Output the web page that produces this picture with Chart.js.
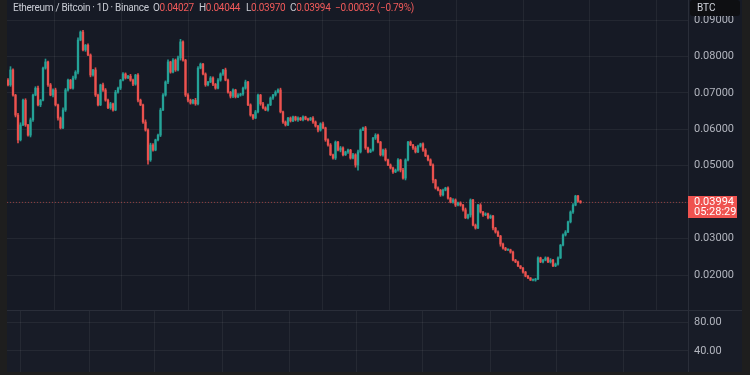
<!DOCTYPE html>
<html>
<head>
<meta charset="utf-8">
<title>ETH/BTC 1D</title>
<script src="https://cdn.jsdelivr.net/npm/chart.js@4.4.1/dist/chart.umd.min.js"></script>
<style>
  html, body { margin: 0; padding: 0; width: 750px; height: 375px; overflow: hidden; background: #1e1e1e; font-family: Roboto, "Noto Sans", sans-serif; }
  #wrap { position: absolute; left: 7px; top: 0; width: 735px; height: 372px; background: #161a25; }
  #top { position: absolute; left: 0; top: 0; width: 735px; height: 310px; }
  #sep { position: absolute; left: 0; top: 310px; width: 735px; height: 1px; background: #2a2e39; }
  #bot { position: absolute; left: 0; top: 311px; width: 735px; height: 61px; background: #181c27; }
  .lg { position: absolute; top: 1px; font-size: 10px; letter-spacing: -0.3px; line-height: 14px; color: #c9ccd4; white-space: nowrap; }
  .lg b { font-weight: normal; color: #f05a5a; }
  #btc { position: absolute; left: 683px; top: 0; width: 50px; height: 16px; background: #0e0f12; border-radius: 3px;
         font-size: 10px; line-height: 16px; color: #d1d4dc; padding-left: 7px; box-sizing: border-box; }
</style>
</head>
<body>
<div id="wrap">
  <div id="top"><canvas id="priceChart"></canvas></div>
  <div id="sep"></div>
  <div id="bot"><canvas id="indChart"></canvas></div>
  <div class="lg" style="left:6px">Ethereum / Bitcoin · 1D · Binance</div>
  <div class="lg" style="left:146px">O<b>0.04027</b></div>
  <div class="lg" style="left:192px">H<b>0.04044</b></div>
  <div class="lg" style="left:239px">L<b>0.03970</b></div>
  <div class="lg" style="left:283px">C<b>0.03994</b></div>
  <div class="lg" style="left:328px"><b>−0.00032 (−0.79%)</b></div>
  <div id="btc">BTC</div>
</div>
<script>
// daily closes, ETH priced in BTC
const firstOpen = 0.0735;
const closes = [
  0.0722, 0.0763, 0.0694, 0.0639, 0.0571, 0.0612, 0.0680, 0.0612,
  0.0584, 0.0626, 0.0694, 0.0713, 0.0667, 0.0680, 0.0768, 0.0785,
  0.0722, 0.0694, 0.0708, 0.0667, 0.0631, 0.0604, 0.0653, 0.0708,
  0.0735, 0.0713, 0.0741, 0.0757, 0.0845, 0.0867, 0.0818, 0.0831,
  0.0804, 0.0749, 0.0763, 0.0694, 0.0667, 0.0722, 0.0708, 0.0680,
  0.0659, 0.0670, 0.0653, 0.0702, 0.0713, 0.0735, 0.0752, 0.0741,
  0.0746, 0.0735, 0.0724, 0.0749, 0.0680, 0.0667, 0.0620, 0.0598,
  0.0516, 0.0557, 0.0543, 0.0571, 0.0584, 0.0653, 0.0694, 0.0730,
  0.0785, 0.0757, 0.0790, 0.0763, 0.0796, 0.0840, 0.0790, 0.0694,
  0.0680, 0.0672, 0.0680, 0.0670, 0.0768, 0.0779, 0.0752, 0.0722,
  0.0730, 0.0741, 0.0724, 0.0713, 0.0735, 0.0752, 0.0763, 0.0735,
  0.0702, 0.0691, 0.0708, 0.0689, 0.0694, 0.0697, 0.0713, 0.0730,
  0.0667, 0.0639, 0.0631, 0.0648, 0.0694, 0.0670, 0.0659, 0.0653,
  0.0667, 0.0686, 0.0694, 0.0702, 0.0708, 0.0648, 0.0620, 0.0612,
  0.0631, 0.0623, 0.0634, 0.0626, 0.0631, 0.0626, 0.0634, 0.0628,
  0.0626, 0.0631, 0.0620, 0.0609, 0.0598, 0.0615, 0.0604, 0.0571,
  0.0557, 0.0530, 0.0521, 0.0565, 0.0543, 0.0549, 0.0530, 0.0538,
  0.0543, 0.0521, 0.0530, 0.0502, 0.0538, 0.0598, 0.0604, 0.0549,
  0.0538, 0.0543, 0.0576, 0.0584, 0.0565, 0.0530, 0.0543, 0.0516,
  0.0502, 0.0494, 0.0483, 0.0488, 0.0516, 0.0488, 0.0466, 0.0516,
  0.0565, 0.0557, 0.0549, 0.0538, 0.0554, 0.0560, 0.0543, 0.0527,
  0.0516, 0.0502, 0.0461, 0.0439, 0.0433, 0.0420, 0.0433, 0.0439,
  0.0411, 0.0400, 0.0406, 0.0392, 0.0398, 0.0392, 0.0379, 0.0357,
  0.0365, 0.0406, 0.0337, 0.0329, 0.0392, 0.0373, 0.0365, 0.0368,
  0.0357, 0.0362, 0.0329, 0.0318, 0.0307, 0.0285, 0.0274, 0.0269,
  0.0269, 0.0263, 0.0241, 0.0236, 0.0225, 0.0219, 0.0208, 0.0197,
  0.0192, 0.0186, 0.0186, 0.0189, 0.0247, 0.0236, 0.0241, 0.0247,
  0.0236, 0.0241, 0.0225, 0.0230, 0.0247, 0.0282, 0.0310, 0.0318,
  0.0346, 0.0373, 0.0392, 0.0417, 0.04027, 0.03994
];
// wick lengths above / below the body, in 0.0001 BTC
const upperWick = [
  4,9,3,2,5,6,3,4,2,5, 3,4,6,2,3,8,2,4,3,5, 2,3,6,4,3,2,5,4,6,3,
  5,2,4,3,2,6,3,2,5,4, 3,4,2,5,3,2,4,3,2,5, 3,2,4,3,2,6,3,5,4,2,
  3,5,4,3,6,2,4,3,5,7, 3,2,4,3,2,5,4,3,2,3, 2,4,3,2,4,3,2,5,3,2,
  3,2,4,2,3,5,2,3,2,4, 3,2,4,3,2,3,2,4,3,5, 2,3,2,3,2,2,3,2,3,2,
  3,2,4,3,2,3,5,2,3,4, 2,3,2,4,3,2,3,2,4,3, 5,3,2,4,2,3,2,4,3,2,
  3,4,2,3,2,3,4,2,5,3, 2,3,2,4,3,2,3,4,2,3, 3,2,3,2,3,2,3,2,4,3,
  2,3,2,5,2,3,2,3,2,4, 2,3,2,3,2,2,3,2,3,2, 2,2,3,2,2,1,2,2,2,1,
  3,2,3,2,2,3,2,4,2,3, 3,2,3,4,2,3,4,2,2,1.7
];
const lowerWick = [
  3,4,3,5,8,3,2,4,3,5, 4,2,3,5,2,3,4,2,5,3, 6,3,2,4,3,2,3,4,5,2,
  3,4,2,5,3,4,3,2,4,3, 2,4,3,2,3,4,2,3,2,3, 4,3,5,2,4,3,12,4,3,2,
  3,4,2,3,5,3,2,4,3,6, 3,4,5,3,2,4,3,2,3,4, 3,2,4,3,2,3,4,2,3,5,
  4,3,2,3,4,3,2,3,4,2, 3,4,3,2,3,2,4,3,2,3, 4,3,2,3,2,3,4,2,3,2,
  3,2,4,3,5,3,2,4,3,2, 3,4,2,5,3,2,4,3,2,6, 14,3,2,4,3,2,3,4,2,3,
  4,3,2,3,4,2,3,5,3,5, 3,2,4,3,2,3,4,2,3,2, 8,3,2,4,3,2,3,2,3,4,
  2,3,4,2,3,6,2,3,2,3, 4,2,3,2,5,3,2,6,3,2, 2,3,2,2,2,2,3,2,2,1,
  2,3,2,2,3,2,2,3,2,2, 3,2,2,3,2,3,4,2,3,2.4
];
const lastPrice = 0.03994;
const countdown = '05:28:29';
const priceTicks = [0.02, 0.03, 0.04, 0.05, 0.06, 0.07, 0.08, 0.09];
const indTicks = [40, 80];
// month boundaries (bar index) used as vertical grid lines
const gridTicks = [4.8, 32.4, 58.4, 85.6, 112.4, 139.2, 165.6, 192.8, 219.2, 246];

const UP = 'rgba(38,166,154,0.9)';
const DOWN = 'rgba(239,83,80,0.9)';
const GRID = 'rgba(255,255,255,0.06)';
const FONT = { family: 'Roboto, "Noto Sans", sans-serif', size: 11 };

const opens = closes.map((c, i) => i === 0 ? firstOpen : closes[i - 1]);
const highs = closes.map((c, i) => Math.max(opens[i], c) + upperWick[i] * 1e-4);
const lows = closes.map((c, i) => Math.min(opens[i], c) - lowerWick[i] * 1e-4);
const colors = closes.map((c, i) => c >= opens[i] ? UP : DOWN);

const xMin = -0.4, xMax = 272;

function xScale() {
    return {
        type: 'linear', min: xMin, max: xMax, offset: false,
        afterBuildTicks: s => { s.ticks = gridTicks.map(v => ({ value: v })); },
        afterFit: s => { s.height = 0; s.paddingLeft = 0; s.paddingRight = 0; },
        ticks: { display: false },
        grid: { color: GRID, drawTicks: false },
        border: { display: false }
    };
}

function yScale(min, max, ticks, digits) {
    return {
        position: 'right', min: min, max: max,
        afterBuildTicks: s => { s.ticks = ticks.map(v => ({ value: v })); },
        afterFit: s => { s.width = 54; s.paddingTop = 0; s.paddingBottom = 0; },
        ticks: { color: '#b2b5be', font: FONT, padding: 6, crossAlign: 'near', callback: v => v.toFixed(digits) },
        grid: { color: GRID, drawTicks: false },
        border: { display: true, color: '#2a2e39' }
    };
}

// red last-price tag on the price scale
const priceTag = {
    id: 'priceTag',
    afterDraw(chart) {
        const { ctx, chartArea, scales } = chart;
        const y = Math.round(scales.y.getPixelForValue(lastPrice));
        ctx.save();
        ctx.fillStyle = '#ef5350';
        ctx.fillRect(chartArea.right, y - 6, 49, 22);
        ctx.fillStyle = '#ffffff';
        ctx.font = '11px ' + FONT.family;
        ctx.textBaseline = 'middle';
        ctx.textAlign = 'left';
        ctx.fillText(lastPrice.toFixed(5), chartArea.right + 6, y + 0.5);
        ctx.fillText(countdown, chartArea.right + 6, y + 10.5);
        ctx.restore();
    }
};

new Chart(document.getElementById('priceChart'), {
    type: 'bar',
    data: {
        datasets: [
            {
                type: 'line',
                data: [{ x: xMin, y: lastPrice }, { x: xMax, y: lastPrice }],
                borderColor: 'rgba(239,83,80,0.55)',
                borderWidth: 1,
                borderDash: [1, 2],
                pointRadius: 0,
                order: 3
            },
            {
                data: closes.map((c, i) => ({ x: i, y: [lows[i], highs[i]] })),
                backgroundColor: colors,
                barThickness: 1,
                grouped: false,
                order: 2
            },
            {
                data: closes.map((c, i) => ({ x: i, y: [opens[i], c] })),
                backgroundColor: colors,
                barThickness: 1.7,
                minBarLength: 1,
                grouped: false,
                order: 1
            }
        ]
    },
    options: {
        responsive: true,
        maintainAspectRatio: false,
        animation: false,
        layout: { padding: 0 },
        plugins: { legend: { display: false }, tooltip: { enabled: false } },
        scales: {
            x: xScale(),
            y: yScale(0.0104, 0.0955, priceTicks, 5)
        }
    },
    plugins: [priceTag]
});

new Chart(document.getElementById('indChart'), {
    type: 'line',
    data: { datasets: [{ data: [] }] },
    options: {
        responsive: true,
        maintainAspectRatio: false,
        animation: false,
        layout: { padding: 0 },
        plugins: { legend: { display: false }, tooltip: { enabled: false } },
        scales: {
            x: xScale(),
            y: yScale(11, 95.2, indTicks, 2)
        }
    }
});
</script>
</body>
</html>
